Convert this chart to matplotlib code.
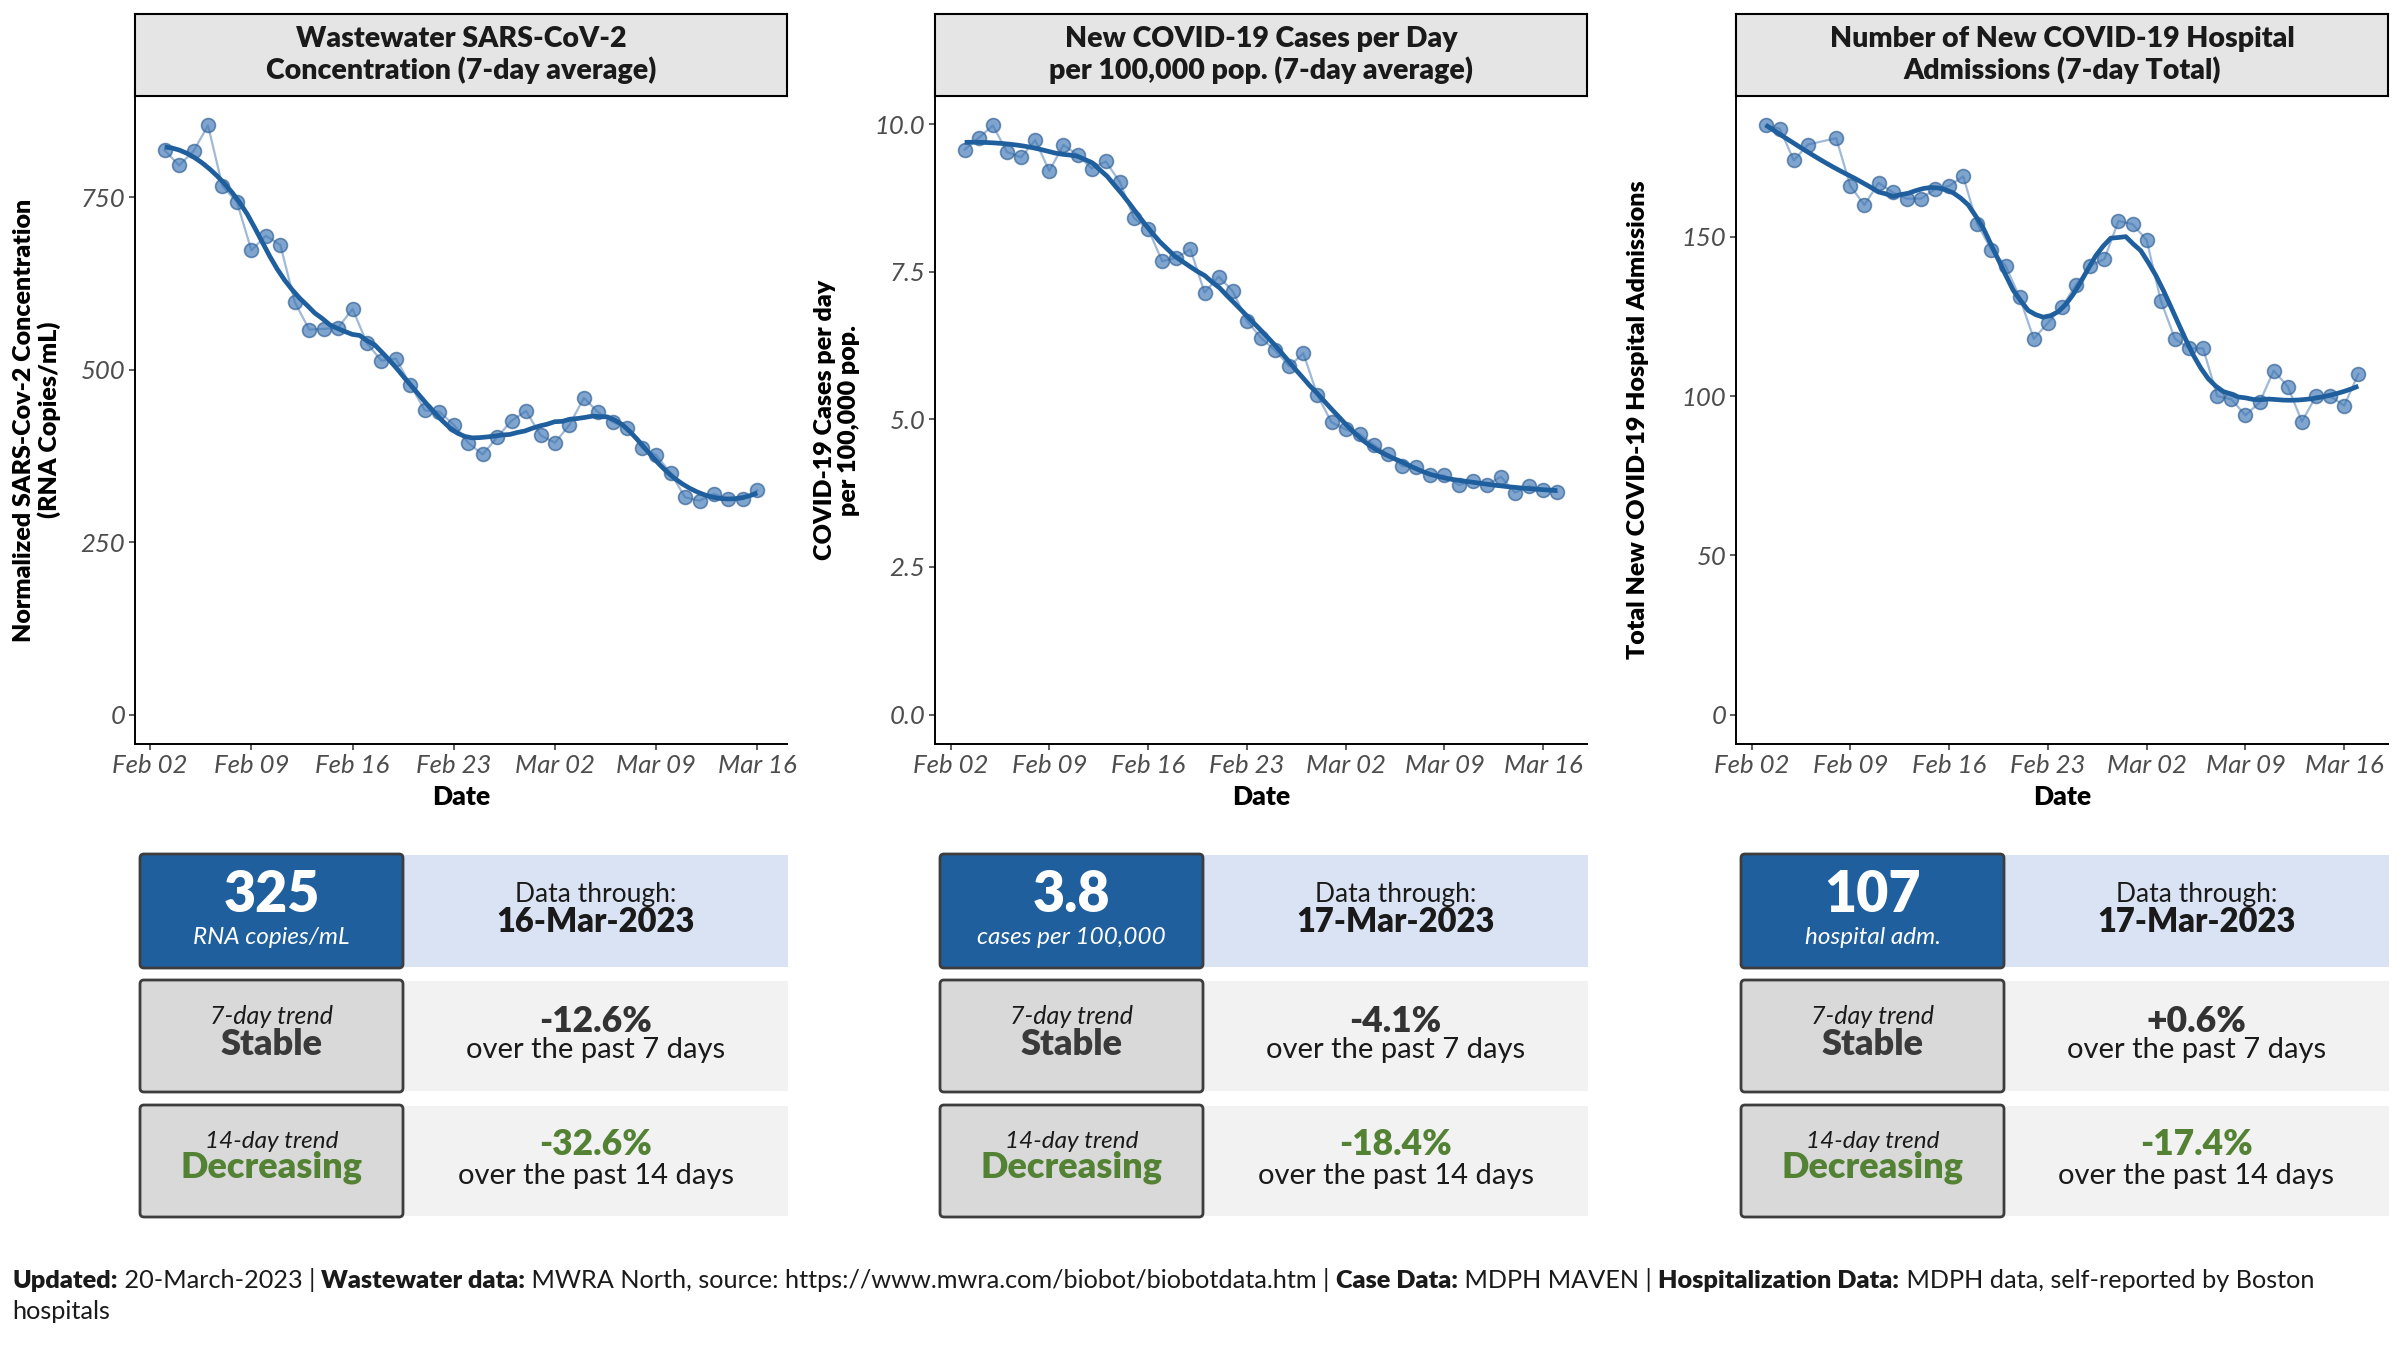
import numpy as np
import pandas as pd
import matplotlib
matplotlib.use("Agg")
import matplotlib.pyplot as plt
import matplotlib.dates as mdates
from matplotlib.patches import Rectangle, FancyBboxPatch

plt.rcParams['font.family'] = ['Lato', 'DejaVu Sans']

# ---- data ----
ww_dates = pd.date_range('2023-02-03', '2023-03-16')
ww_vals = [818, 796, 817, 854, 766, 743, 673, 694, 681, 598, 558, 559, 561, 588,
           538, 513, 516, 478, 441, 439, 420, 394, 377, 402, 426, 440, 405, 394,
           420, 459, 438, 424, 416, 387, 376, 350, 315, 310, 320, 312, 312, 325]

case_dates = pd.date_range('2023-02-03', '2023-03-17')
case_vals = [9.57, 9.77, 9.98, 9.53, 9.44, 9.73, 9.21, 9.65, 9.48, 9.25, 9.37, 9.02,
             8.41, 8.23, 7.68, 7.74, 7.88, 7.15, 7.42, 7.17, 6.67, 6.38, 6.17, 5.90,
             6.12, 5.41, 4.95, 4.83, 4.75, 4.57, 4.41, 4.21, 4.19, 4.06, 4.05, 3.89,
             3.95, 3.89, 4.03, 3.76, 3.87, 3.81, 3.77]

hosp_dates = pd.date_range('2023-02-03', '2023-03-17')
# no value reported for Feb 07
hosp_vals = [185, 184, 174, 179, None, 181, 166, 160, 167, 164, 162, 162, 165, 166,
             169, 154, 146, 141, 131, 118, 123, 128, 135, 141, 143, 155, 154, 149,
             130, 118, 115, 115, 100, 99, 94, 98, 108, 103, 92, 100, 100, 97, 107]

titles = ["Wastewater SARS-CoV-2\nConcentration (7-day average)",
          "New COVID-19 Cases per Day\nper 100,000 pop. (7-day average)",
          "Number of New COVID-19 Hospital\nAdmissions (7-day Total)"]
ylabels = ["Normalized SARS-Cov-2 Concentration\n(RNA Copies/mL)",
           "COVID-19 Cases per day\nper 100,000 pop.",
           "Total New COVID-19 Hospital Admissions"]
yticks = [[0, 250, 500, 750], [0, 2.5, 5.0, 7.5, 10.0], [0, 50, 100, 150]]
ytick_fmt = ["{:.0f}", "{:.1f}", "{:.0f}"]

latest = ["325", "3.8", "107"]
latest_unit = ["RNA copies/mL", "cases per 100,000", "hospital adm."]
through = ["16-Mar-2023", "17-Mar-2023", "17-Mar-2023"]
trend7 = ["Stable", "Stable", "Stable"]
pct7 = ["-12.6%", "-4.1%", "+0.6%"]
trend14 = ["Decreasing", "Decreasing", "Decreasing"]
pct14 = ["-32.6%", "-18.4%", "-17.4%"]

BLUE = '#1f5f9e'
GREEN = '#548235'
BOLD = 800


def loess(x, y, span=0.35, n_out=80):
    # local quadratic fit with tricube weights (like geom_smooth loess)
    xs = np.linspace(x.min(), x.max(), n_out)
    q = int(np.floor(len(x) * span))
    out = []
    for x0 in xs:
        d = np.abs(x - x0)
        h = np.sort(d)[q - 1]
        w = np.clip(1 - (d / h) ** 3, 0, None) ** 3
        A = np.vstack([np.ones_like(x), x - x0, (x - x0) ** 2]).T
        sw = np.sqrt(w)
        coef = np.linalg.lstsq(A * sw[:, None], y * sw, rcond=None)[0]
        out.append(coef[0])
    return xs, np.array(out)


W, H = 2400, 1350
fig = plt.figure(figsize=(24, 13.5), dpi=100)


def px_rect(l, t, r, b):
    return [l / W, 1 - b / H, (r - l) / W, (b - t) / H]


series = [(ww_dates, ww_vals), (case_dates, case_vals), (hosp_dates, hosp_vals)]
offsets = [0, 800, 1601]

for i, (dates, vals) in enumerate(series):
    off = offsets[i]
    v = np.array([np.nan if a is None else a for a in vals], dtype=float)
    x = mdates.date2num(dates)
    ok = ~np.isnan(v)
    x, v = x[ok], v[ok]

    ax = fig.add_axes(px_rect(135 + off, 96, 787 + off, 744))
    ax.plot(x, v, color='#8eadd0', lw=1.6, alpha=0.85, zorder=2)
    ax.scatter(x, v, s=100, color='#3b75b4', alpha=0.65, edgecolor='#2a5a90',
               linewidth=1.2, zorder=3)
    xs, ys = loess(x, v)
    ax.plot(xs, ys, color=BLUE, lw=3.4, zorder=4, solid_capstyle='butt')

    xr = x.max() - x.min()
    ax.set_xlim(x.min() - 0.05 * xr, x.max() + 0.05 * xr)
    ymax = v.max()
    ax.set_ylim(-0.05 * ymax, 1.05 * ymax)

    ax.xaxis.set_major_locator(mdates.WeekdayLocator(byweekday=mdates.TH))
    ax.xaxis.set_major_formatter(mdates.DateFormatter('%b %d'))
    ax.set_yticks(yticks[i])
    ax.set_yticklabels([ytick_fmt[i].format(t) for t in yticks[i]])
    for s in ['top', 'right']:
        ax.spines[s].set_visible(False)
    for s in ['left', 'bottom']:
        ax.spines[s].set_linewidth(1.4)
        ax.spines[s].set_color('black')
    ax.tick_params(length=4, width=1.1, color='#333333', labelsize=18.5,
                   labelcolor='#4d4d4d', pad=3)
    for lab in ax.get_xticklabels() + ax.get_yticklabels():
        lab.set_fontstyle('italic')
    ax.set_xlabel('Date', fontsize=19, fontweight=BOLD)
    ax.xaxis.set_label_coords(0.5, -0.082)
    ax.xaxis.label.set_va('center')
    ax.set_ylabel(ylabels[i], fontsize=18, fontweight=BOLD, va='center',
                  linespacing=1.1)
    ax.yaxis.set_label_coords(-0.15, 0.5)

    # facet strip
    st = fig.add_axes(px_rect(135 + off, 14, 787 + off, 96))
    st.set_facecolor('#e5e5e5')
    st.set_xticks([])
    st.set_yticks([])
    for s in st.spines.values():
        s.set_linewidth(1.5)
        s.set_color('black')
    st.text(0.5, 0.5, titles[i], ha='center', va='center', fontsize=20.5,
            fontweight=BOLD, color='#1a1a1a', linespacing=1.15,
            transform=st.transAxes)

# ---- summary tables, drawn on an overlay in pixel units ----
ov = fig.add_axes([0, 0, 1, 1])
ov.set_xlim(0, W)
ov.set_ylim(H, 0)
ov.axis('off')

rows = [(854, 968), (980, 1092), (1105, 1217)]
for i in range(3):
    off = offsets[i]
    l, m, r = 140 + off, 403 + off, 788 + off
    cl, cr = (l + m) / 2, (m + r) / 2
    right_fc = ['#dae3f3', '#f2f2f2', '#f2f2f2']
    left_fc = [BLUE, '#d9d9d9', '#d9d9d9']
    for j, (t, b) in enumerate(rows):
        ov.add_patch(Rectangle((m, t + 1), r - m, b - t - 2, facecolor=right_fc[j],
                               edgecolor='none'))
        ov.add_patch(FancyBboxPatch((l, t), m - l, b - t,
                                    boxstyle='round,pad=0,rounding_size=4',
                                    facecolor=left_fc[j], edgecolor='#3d3d3d', lw=2))

    ov.text(cl, 912, latest[i], ha='center', va='baseline', fontsize=40,
            fontweight=BOLD, color='white')
    ov.text(cl, 944, latest_unit[i], ha='center', va='baseline', fontsize=17.5,
            fontstyle='italic', color='white')
    ov.text(cr, 902, "Data through:", ha='center', va='baseline', fontsize=19,
            color='#1a1a1a')
    ov.text(cr, 932, through[i], ha='center', va='baseline', fontsize=23.5,
            fontweight=BOLD, color='#1a1a1a')

    ov.text(cl, 1024, "7-day trend", ha='center', va='baseline', fontsize=18,
            fontstyle='italic', color='#1a1a1a')
    ov.text(cl, 1055, trend7[i], ha='center', va='baseline', fontsize=26,
            fontweight=BOLD, color='#3a3a3a')
    ov.text(cr, 1032, pct7[i], ha='center', va='baseline', fontsize=25.5,
            fontweight=BOLD, color='#333333')
    ov.text(cr, 1058, "over the past 7 days", ha='center', va='baseline',
            fontsize=21, color='#1a1a1a')

    ov.text(cl, 1148, "14-day trend", ha='center', va='baseline', fontsize=17.5,
            fontstyle='italic', color='#1a1a1a')
    ov.text(cl, 1178, trend14[i], ha='center', va='baseline', fontsize=26,
            fontweight=BOLD, color=GREEN)
    ov.text(cr, 1155, pct14[i], ha='center', va='baseline', fontsize=25.5,
            fontweight=BOLD, color=GREEN)
    ov.text(cr, 1184, "over the past 14 days", ha='center', va='baseline',
            fontsize=21, color='#1a1a1a')

# ---- footer with bold labels ----
footer = [("Updated:", BOLD), (" 20-March-2023 | ", 'normal'),
          ("Wastewater data:", BOLD),
          (" MWRA North, source: https://www.mwra.com/biobot/biobotdata.htm | ", 'normal'),
          ("Case Data:", BOLD), (" MDPH MAVEN | ", 'normal'),
          ("Hospitalization Data:", BOLD),
          (" MDPH data, self-reported by Boston", 'normal')]
renderer = fig.canvas.get_renderer()
xpos = 12
for txt, wt in footer:
    t = ov.text(xpos, 1288, txt, ha='left', va='baseline', fontsize=18.2,
                fontweight=wt, color='#1a1a1a')
    xpos += t.get_window_extent(renderer).width
ov.text(12, 1319, "hospitals", ha='left', va='baseline', fontsize=18.2,
        color='#1a1a1a')

fig.savefig('out.png', dpi=100, facecolor='white')
